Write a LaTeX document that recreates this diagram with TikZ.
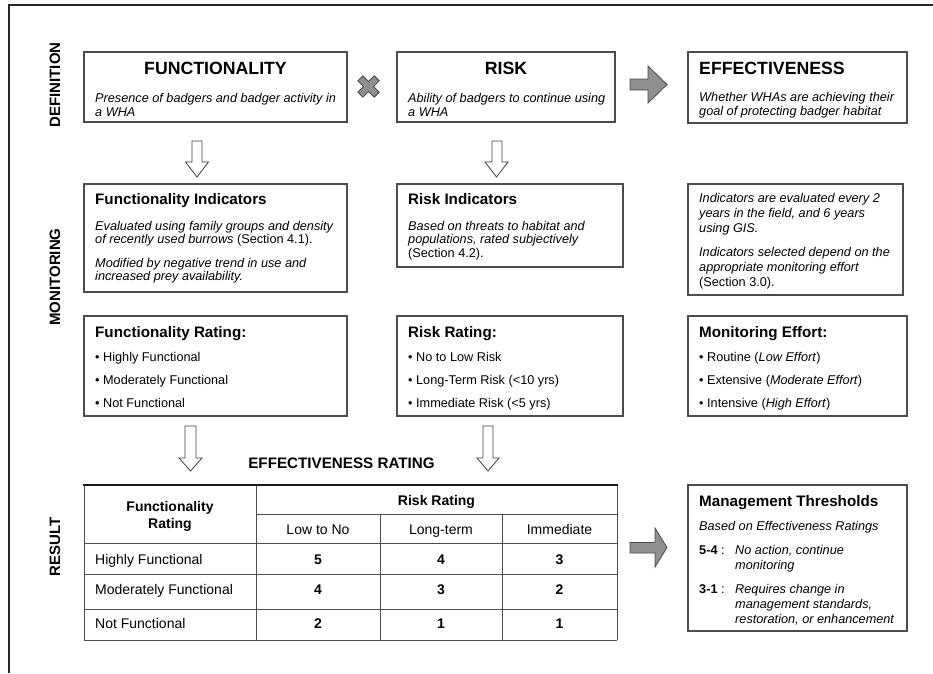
\documentclass[tikz,border=0pt]{standalone}
\usepackage{fontspec}
\setmainfont{Liberation Sans}
\usetikzlibrary{fit}
\definecolor{edge}{gray}{0.30}
\definecolor{arrowfill}{gray}{0.56}
\tikzset{
 box/.style={draw=edge, line width=1.1pt, inner sep=0pt},
 tx/.style={anchor=base west, inner sep=0pt, font=\fontsize{12.7}{14}\selectfont},
 tbl/.style={anchor=base west, inner sep=0pt, font=\fontsize{14}{16}\selectfont},
 tblc/.style={anchor=base, inner sep=0pt, font=\fontsize{14}{16}\selectfont},
 tblb/.style={anchor=base, inner sep=0pt, font=\bfseries\fontsize{14}{16}\selectfont},
 ttl/.style={anchor=base west, inner sep=0pt, font=\bfseries\fontsize{15.2}{17}\selectfont},
 big/.style={anchor=base, inner sep=0pt, font=\bfseries\fontsize{17.7}{20}\selectfont},
 side/.style={rotate=90, inner sep=0pt, font=\bfseries\fontsize{15}{17}\selectfont},
 hollow/.style={draw=black!75, fill=white, line width=0.8pt, line join=miter},
 block/.style={draw=edge, fill=arrowfill, line width=0.8pt},
 gridline/.style={draw=edge, line width=1pt},
}
\begin{document}
\begin{tikzpicture}[x=1pt,y=-1pt]
\useasboundingbox (0,0) rectangle (933,673);
% frame
\draw[line width=1.5pt, black!85] (9,673) -- (9,5) -- (933,5);

% side labels
\node[side] (ldef) at (55,85) {DEFINITION};
\node[side] (lmon) at (55,277) {MONITORING};
\node[side] (lres) at (55,547) {RESULT};

% boxes
\node[box, fit={(84,52) (347,122)}] (bfun) {};
\node[box, fit={(397,52) (615,122)}] (brisk) {};
\node[box, fit={(688,52) (907,123)}] (beff) {};
\node[box, fit={(84,184) (347,292)}] (bfi) {};
\node[box, fit={(397,184) (623,267)}] (bri) {};
\node[box, fit={(688,184) (903,295)}] (bmi) {};
\node[box, fit={(84,316) (347,416)}] (bfr) {};
\node[box, fit={(397,316) (623,416)}] (brr) {};
\node[box, fit={(688,316) (907,416)}] (bme) {};
\node[box, fit={(688,485) (907,631)}] (bmt) {};

% X symbol
\draw[line width=8pt, edge] (360,78) -- (377,95) (360,95) -- (377,78);
\draw[line width=6pt, arrowfill] (360.8,78.8) -- (376.2,94.2) (360.8,94.2) -- (376.2,78.8);

% grey block arrows
\draw[block] (630,79) -- (648,79) -- (648,66) -- (667,84.5) -- (648,103) -- (648,90) -- (630,90) -- cycle;
\draw[block] (630,542.5) -- (655,542.5) -- (655,528) -- (667,547.5) -- (655,567) -- (655,553) -- (630,553) -- cycle;

% hollow down arrows
\draw[hollow] (192,141) -- (202,141) -- (202,162) -- (208.5,162) -- (197,177) -- (185.5,162) -- (192,162) -- cycle;
\draw[hollow] (492,141) -- (502,141) -- (502,162) -- (508,162) -- (496.5,177) -- (485,162) -- (492,162) -- cycle;
\draw[hollow] (185,426) -- (196,426) -- (196,458) -- (202,458) -- (190.5,471) -- (179,458) -- (185,458) -- cycle;
\draw[hollow] (483,426) -- (493,426) -- (493,458) -- (499,458) -- (488,471) -- (477,458) -- (483,458) -- cycle;

% row 1 texts
\node[big] (tfun) at (215.5,74) {FUNCTIONALITY};
\node[tx] (tfun1) at (95,102) {\itshape Presence of badgers and badger activity in};
\node[tx] (tfun2) at (95,116) {\itshape a WHA};
\node[big] (trisk) at (506,74) {RISK};
\node[tx] (trisk1) at (408,102) {\itshape Ability of badgers to continue using};
\node[tx] (trisk2) at (408,116) {\itshape a WHA};
\node[big, anchor=base west] (teff) at (699,74) {EFFECTIVENESS};
\node[tx] (teff1) at (699,101) {\itshape Whether WHAs are achieving their};
\node[tx] (teff2) at (699,115) {\itshape goal of protecting badger habitat};

% row 2 texts
\node[ttl] (tfi) at (95,204) {Functionality Indicators};
\node[tx] (tfi1) at (95,230) {\itshape Evaluated using family groups and density};
\node[tx] (tfi2) at (95,243.5) {{\itshape of recently used burrows} (Section 4.1).};
\node[tx] (tfi3) at (95,267) {\itshape Modified by negative trend in use and};
\node[tx] (tfi4) at (95,280.5) {\itshape increased prey availability.};
\node[ttl] (tri) at (408,204) {Risk Indicators};
\node[tx] (tri1) at (408,230) {\itshape Based on threats to habitat and};
\node[tx] (tri2) at (408,243.5) {\itshape populations, rated subjectively};
\node[tx] (tri3) at (408,257) {(Section 4.2).};
\node[tx] (tmi1) at (699,202.5) {\itshape Indicators are evaluated every 2};
\node[tx] (tmi2) at (699,217.5) {\itshape years in the field, and 6 years};
\node[tx] (tmi3) at (699,232.5) {\itshape using GIS.};
\node[tx] (tmi4) at (699,256.5) {\itshape Indicators selected depend on the};
\node[tx] (tmi5) at (699,271.5) {\itshape appropriate monitoring effort};
\node[tx] (tmi6) at (699,286.5) {(Section 3.0).};

% row 3 texts
\node[ttl] (tfr) at (95,337.6) {Functionality Rating:};
\node[tx] (tfr1) at (95,361.4) {\textbullet\ Highly Functional};
\node[tx] (tfr2) at (95,384.4) {\textbullet\ Moderately Functional};
\node[tx] (tfr3) at (95,407.4) {\textbullet\ Not Functional};
\node[ttl] (trr) at (408,337.6) {Risk Rating:};
\node[tx] (trr1) at (408,361.4) {\textbullet\ No to Low Risk};
\node[tx] (trr2) at (408,384.4) {\textbullet\ Long-Term Risk (<10 yrs)};
\node[tx] (trr3) at (408,407.4) {\textbullet\ Immediate Risk (<5 yrs)};
\node[ttl] (tme) at (699,337.6) {Monitoring Effort:};
\node[tx] (tme1) at (699,361.4) {\textbullet\ Routine (\textit{Low Effort})};
\node[tx] (tme2) at (699,384.4) {\textbullet\ Extensive (\textit{Moderate Effort})};
\node[tx] (tme3) at (699,407.4) {\textbullet\ Intensive (\textit{High Effort})};

% effectiveness rating table
\node[anchor=base, inner sep=0pt, font=\bfseries\fontsize{15.2}{17}\selectfont] (ter) at (341.5,468.2) {EFFECTIVENESS RATING};
\draw[gridline] (84,485) -- (84,640) (256,485) -- (256,640) (380,514) -- (380,640) (502,514) -- (502,640) (617,485) -- (617,640);
\draw[gridline] (256,514) -- (617,514) (84,543) -- (617,543) (84,574) -- (617,574) (84,609) -- (617,609) (84,640) -- (617,640);
\draw[line width=2pt, black!90] (83,485) -- (618,485);
\node[tblb] (th1) at (170,511.7) {Functionality};
\node[tblb] (th2) at (170,528.3) {Rating};
\node[tblb] (th3) at (436.5,505.3) {Risk Rating};
\node[tblc] (th4) at (318,534.3) {Low to No};
\node[tblc] (th5) at (441,534.3) {Long-term};
\node[tblc] (th6) at (559.5,534.3) {Immediate};
\node[tbl] (r1) at (95,564) {Highly Functional};
\node[tbl] (r2) at (95,594) {Moderately Functional};
\node[tbl] (r3) at (95,628.3) {Not Functional};
\node[tblb] (c11) at (318,564) {5};
\node[tblb] (c12) at (441,564) {4};
\node[tblb] (c13) at (559.5,564) {3};
\node[tblb] (c21) at (318,594) {4};
\node[tblb] (c22) at (441,594) {3};
\node[tblb] (c23) at (559.5,594) {2};
\node[tblb] (c31) at (318,628.3) {2};
\node[tblb] (c32) at (441,628.3) {1};
\node[tblb] (c33) at (559.5,628.3) {1};

% management thresholds
\node[ttl] (tmt) at (699,506.7) {Management Thresholds};
\node[tx] (tmt1) at (699,530.8) {\itshape Based on Effectiveness Ratings};
\node[tx] (tmt2) at (699,554) {\textbf{5-4} :};
\node[tx] (tmt3) at (735,554) {\itshape No action, continue};
\node[tx] (tmt4) at (735,569.5) {\itshape monitoring};
\node[tx] (tmt5) at (699,593) {\textbf{3-1} :};
\node[tx] (tmt6) at (735,593) {\itshape Requires change in};
\node[tx] (tmt7) at (735,608.5) {\itshape management standards,};
\node[tx] (tmt8) at (735,623.5) {\itshape restoration, or enhancement};
\end{tikzpicture}
\end{document}
